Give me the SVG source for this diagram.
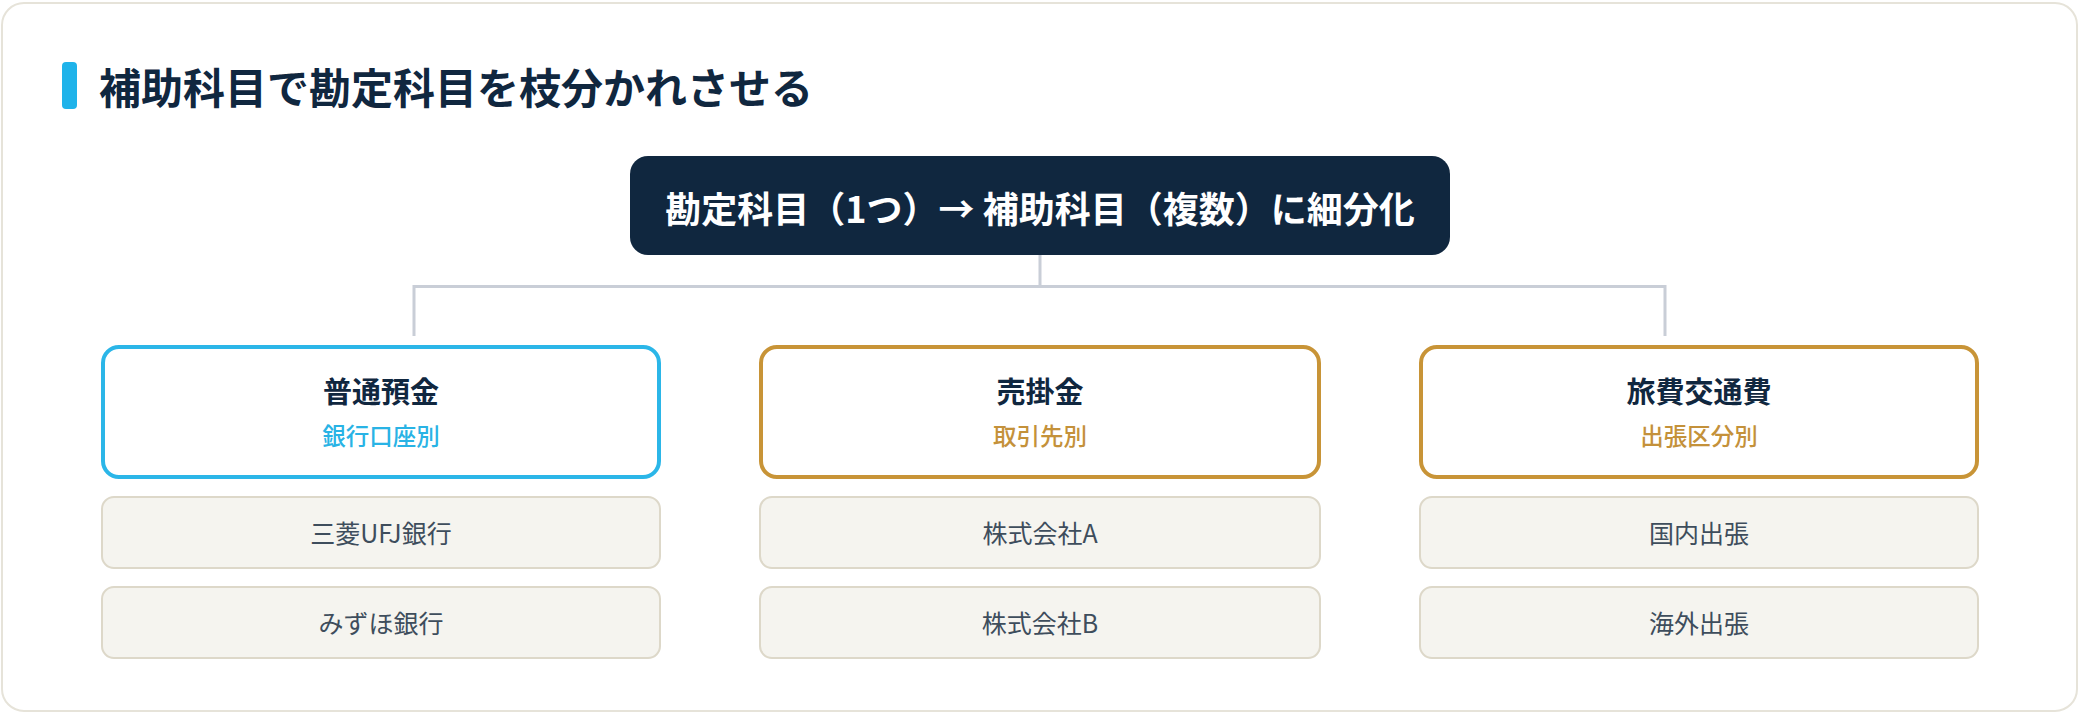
<svg xmlns="http://www.w3.org/2000/svg" width="2080" height="714" viewBox="0 0 2080 714">
<style>
text{font-family:"Noto Sans CJK JP","Noto Sans",sans-serif}
.title{font-size:42px;font-weight:700;fill:#10273f}
.root{font-size:36px;font-weight:700;fill:#ffffff;text-anchor:middle}
.hd{fill:#ffffff;stroke-width:4}
.blue{stroke:#2bb6e8}
.gold{stroke:#c89437}
.hname{font-size:29px;font-weight:700;fill:#10273f;text-anchor:middle}
.hsub{font-size:23.5px;font-weight:500;text-anchor:middle}
.sb{fill:#29b3e5}
.sg{fill:#c4913a}
.child{fill:#f5f4ef;stroke:#ddd8c9;stroke-width:2}
.ct{font-size:25px;font-weight:400;fill:#3e4d5c;text-anchor:middle}
.conn{fill:none;stroke:#c9ced7;stroke-width:3}
</style>
<rect width="2080" height="714" fill="#ffffff"/>
<rect x="2" y="3" width="2075" height="708" rx="22" fill="#ffffff" stroke="#e6e3d9" stroke-width="2"/>
<g id="title">
<rect x="62" y="62" width="15" height="47" rx="4" fill="#1fb3ea"/>
<text class="title" x="99" y="104">補助科目で勘定科目を枝分かれさせる</text>
</g>
<g id="connectors">
<path class="conn" d="M414 336 V286.5 H1665 V336 M1040 255 V286.5"/>
</g>
<g id="root">
<rect x="630" y="156" width="820" height="99" rx="18" fill="#10273f"/>
<text class="root" x="1040" y="223">勘定科目（1つ）→ 補助科目（複数）に細分化</text>
</g>
<g id="futsu">
<rect class="hd blue" x="103" y="347" width="556" height="130" rx="16"/>
<text class="hname" x="381" y="403">普通預金</text>
<text class="hsub sb" x="381" y="444.5">銀行口座別</text>
</g>
<g id="futsu-1">
<rect class="child" x="102" y="497" width="558" height="71" rx="12"/>
<text class="ct" x="381" y="543">三菱UFJ銀行</text>
</g>
<g id="futsu-2">
<rect class="child" x="102" y="587" width="558" height="71" rx="12"/>
<text class="ct" x="381" y="633">みずほ銀行</text>
</g>
<g id="urikake">
<rect class="hd gold" x="761" y="347" width="558" height="130" rx="16"/>
<text class="hname" x="1040" y="403">売掛金</text>
<text class="hsub sg" x="1040" y="444.5">取引先別</text>
</g>
<g id="urikake-1">
<rect class="child" x="760" y="497" width="560" height="71" rx="12"/>
<text class="ct" x="1040" y="543">株式会社A</text>
</g>
<g id="urikake-2">
<rect class="child" x="760" y="587" width="560" height="71" rx="12"/>
<text class="ct" x="1040" y="633">株式会社B</text>
</g>
<g id="ryohi">
<rect class="hd gold" x="1421" y="347" width="556" height="130" rx="16"/>
<text class="hname" x="1699" y="403">旅費交通費</text>
<text class="hsub sg" x="1699" y="444.5">出張区分別</text>
</g>
<g id="ryohi-1">
<rect class="child" x="1420" y="497" width="558" height="71" rx="12"/>
<text class="ct" x="1699" y="543">国内出張</text>
</g>
<g id="ryohi-2">
<rect class="child" x="1420" y="587" width="558" height="71" rx="12"/>
<text class="ct" x="1699" y="633">海外出張</text>
</g>
</svg>
